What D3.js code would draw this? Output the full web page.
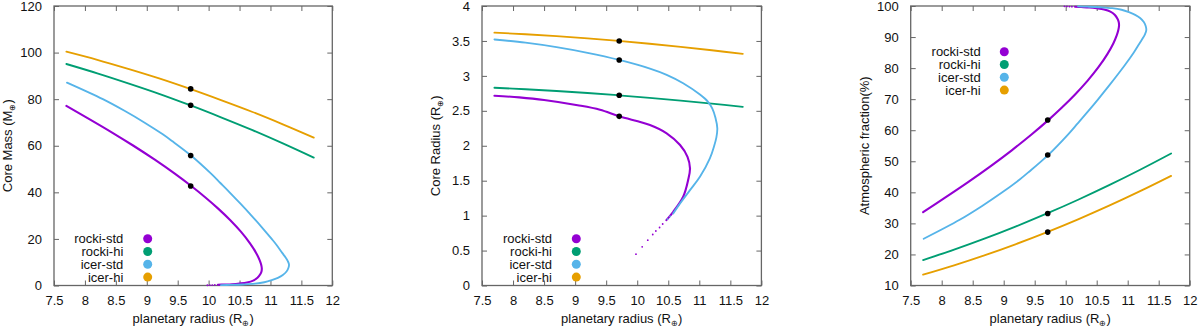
<!DOCTYPE html>
<html><head><meta charset="utf-8">
<script src="https://cdn.jsdelivr.net/npm/d3@7"></script>
<style>
html,body{margin:0;padding:0;background:#fff;}
svg{display:block;font-family:"Liberation Sans",Arial,Helvetica,sans-serif;}
</style></head>
<body>
<svg id="chart" width="1200" height="327"></svg>
<script>
// ---------- data ----------
const seriesNames = ["rocki-std", "rocki-hi", "icer-std", "icer-hi"];
const seriesColors = ["#9400d3", "#009e73", "#56b4e9", "#e69f00"];
const xTickValues = [7.5, 8, 8.5, 9, 9.5, 10, 10.5, 11, 11.5, 12];
const xTickLabels = ["7.5", "8", "8.5", "9", "9.5", "10", "10.5", "11", "11.5", "12"];
const massTicks = [0, 20, 40, 60, 80, 100, 120];
const coreRadTicks = [0, 0.5, 1, 1.5, 2, 2.5, 3, 3.5, 4];
const coreRadTickLabels = ["0", "0.5", "1", "1.5", "2", "2.5", "3", "3.5", "4"];
const atmTicks = [10, 20, 30, 40, 50, 60, 70, 80, 90, 100];
const markerRadius = [9.71, 9.71, 9.71, 9.71];

// Panel 1: core mass (M_earth)
const massRockiStdR = [7.7, 8.036, 8.42, 8.785, 9.13, 9.453, 9.719, 9.939, 10.155, 10.351, 10.525, 10.672, 10.768, 10.823, 10.849, 10.86, 10.855, 10.835, 10.79, 10.72, 10.62, 10.5, 10.38, 10.25, 10.15];
const massRockiStdV = [77.1, 72, 66, 60, 54, 48, 42.7, 38, 33, 28, 23, 18, 14, 11, 9, 7.4, 6, 4.8, 3.3, 2.1, 1.3, 0.85, 0.55, 0.4, 0.3];
const massRockiStdTailR = [10.1, 10.06, 10.02, 9.98];
const massRockiStdTailV = [0.25, 0.2, 0.15, 0.1];
const massRockiHiR = [7.7, 8.2, 8.7, 9.2, 9.7, 10.2, 10.7, 11.2, 11.7];
const massRockiHiV = [95.1, 91.1, 86.8, 82.3, 77.4, 72.2, 66.8, 61.0, 54.9];
const massIcerStdR = [7.71, 8.29, 8.64, 8.96, 9.253, 9.41, 9.715, 10.04, 10.19, 10.339, 10.519, 10.693, 10.861, 11.02, 11.096, 11.19, 11.245, 11.28, 11.3, 11.29, 11.26, 11.2, 11.12, 11.02, 10.9, 10.75, 10.55, 10.35, 10.2];
const massIcerStdV = [87.1, 80, 75, 70, 65, 62, 55.8, 48, 44, 40, 35, 30, 25, 20, 17.5, 14, 12, 10.5, 9, 7.5, 6, 4.5, 3.3, 2.3, 1.4, 0.8, 0.45, 0.25, 0.15];
const massIcerHiR = [7.7, 8.2, 8.7, 9.2, 9.7, 10.2, 10.7, 11.2, 11.7];
const massIcerHiV = [100.4, 96.9, 93.0, 88.9, 84.4, 79.6, 74.6, 69.2, 63.5];
const massMarkerV = [42.7, 77.4, 55.8, 84.4];

// Panel 2: core radius (R_earth)
const radRockiStdR = [7.7, 8.1, 8.5, 9.04, 9.4, 9.71, 10.205, 10.474, 10.69, 10.81, 10.85, 10.82, 10.74, 10.58, 10.47];
const radRockiStdV = [2.716, 2.692, 2.655, 2.58, 2.515, 2.421, 2.297, 2.178, 2.01, 1.842, 1.676, 1.509, 1.27, 1.055, 0.936];
const radRockiStdTailR = [10.41, 10.36, 10.3, 10.25, 10.17, 10.08, 9.98];
const radRockiStdTailV = [0.88, 0.83, 0.78, 0.73, 0.649, 0.553, 0.448];
const radRockiHiR = [7.7, 8.2, 8.7, 9.2, 9.7, 10.2, 10.7, 11.2, 11.7];
const radRockiHiV = [2.83, 2.808, 2.783, 2.755, 2.722, 2.686, 2.646, 2.603, 2.557];
const radIcerStdR = [7.7, 8.2, 8.7, 9.2, 9.71, 10.205, 10.474, 10.74, 11.01, 11.14, 11.21, 11.26, 11.29, 11.275, 11.24, 11.17, 11.01, 10.85, 10.69, 10.58];
const radIcerStdV = [3.521, 3.475, 3.411, 3.33, 3.228, 3.104, 3.015, 2.895, 2.733, 2.629, 2.53, 2.4, 2.249, 2.12, 2.0, 1.819, 1.556, 1.365, 1.175, 1.031];
const radIcerStdTailR = [10.53, 10.49];
const radIcerStdTailV = [0.99, 0.95];
const radIcerHiR = [7.7, 8.2, 8.7, 9.2, 9.7, 10.2, 10.7, 11.2, 11.7];
const radIcerHiV = [3.619, 3.596, 3.568, 3.536, 3.5, 3.46, 3.415, 3.367, 3.314];
const radMarkerV = [2.421, 2.722, 3.228, 3.5];

// Panel 3: atmospheric fraction (%)
const atmRockiStdR = [7.7, 8.036, 8.42, 8.785, 9.13, 9.453, 9.719, 9.939, 10.155, 10.351, 10.525, 10.672, 10.768, 10.823, 10.849, 10.86, 10.855, 10.835, 10.79, 10.72, 10.62, 10.5, 10.38, 10.25, 10.15];
const atmRockiStdV = [33.65, 38.04, 43.2, 48.36, 53.53, 58.69, 63.25, 67.3, 71.6, 75.9, 80.21, 84.51, 87.95, 90.53, 92.25, 93.63, 94.84, 95.87, 97.16, 98.19, 98.88, 99.27, 99.53, 99.66, 99.74];
const atmRockiStdTailR = [10.1, 10.06, 10.02, 9.98];
const atmRockiStdTailV = [99.78, 99.83, 99.87, 99.91];
const atmRockiHiR = [7.7, 8.2, 8.7, 9.2, 9.7, 10.2, 10.7, 11.2, 11.7];
const atmRockiHiV = [18.2, 21.55, 25.16, 29.05, 33.2, 37.62, 42.31, 47.27, 52.5];
const atmIcerStdR = [7.71, 8.29, 8.64, 8.96, 9.253, 9.41, 9.715, 10.04, 10.19, 10.339, 10.519, 10.693, 10.861, 11.02, 11.096, 11.19, 11.245, 11.28, 11.3, 11.29, 11.26, 11.2, 11.12, 11.02, 10.9, 10.75, 10.55, 10.35, 10.2];
const atmIcerStdV = [25.04, 31.15, 35.46, 39.76, 44.06, 46.64, 51.98, 58.69, 62.13, 65.58, 69.88, 74.18, 78.49, 82.79, 84.94, 87.95, 89.67, 90.96, 92.25, 93.55, 94.84, 96.13, 97.16, 98.02, 98.8, 99.31, 99.61, 99.78, 99.87];
const atmIcerHiR = [7.7, 8.2, 8.7, 9.2, 9.7, 10.2, 10.7, 11.2, 11.7];
const atmIcerHiV = [13.5, 16.51, 19.8, 23.36, 27.2, 31.31, 35.7, 40.37, 45.3];
const atmMarkerV = [63.3, 33.2, 52.0, 27.2];

// ---------- drawing ----------
const svg = d3.select("#chart");
const TOP = 6, BOTTOM = 285.5;
const FONT = 13;
const frameColor = "#666";

function zip(xs, ys) { return xs.map((x, i) => [x, ys[i]]); }

function addRich(sel, parts) {
  parts.forEach(p => {
    const t = sel.append("tspan").text(p.t);
    if (p.sub) { t.attr("font-size", FONT * 0.62).attr("dy", 3); }
    else if (p.after) { t.attr("dy", -3); }
  });
}

function panel(cfg) {
  const g = svg.append("g");
  const x = d3.scaleLinear().domain([7.5, 12]).range([cfg.left, cfg.right]);
  const y = d3.scaleLinear().domain(cfg.yDomain).range([BOTTOM, TOP]);
  const clipId = "clip" + cfg.id;
  svg.append("clipPath").attr("id", clipId).append("rect")
    .attr("x", cfg.left).attr("y", TOP - 3).attr("width", cfg.right - cfg.left).attr("height", BOTTOM - TOP + 6);

  // axes: ticks inward, mirrored
  const tl = 5;
  const axB = d3.axisBottom(x).tickValues(xTickValues).tickFormat((d, i) => xTickLabels[i]).tickSizeInner(-tl).tickSizeOuter(0).tickPadding(10);
  const axT = d3.axisTop(x).tickValues(xTickValues).tickFormat("").tickSizeInner(-tl).tickSizeOuter(0);
  const axL = d3.axisLeft(y).tickValues(cfg.yTicks).tickFormat((d, i) => cfg.yTickLabels[i]).tickSizeInner(-tl).tickSizeOuter(0).tickPadding(12);
  const axR = d3.axisRight(y).tickValues(cfg.yTicks).tickFormat("").tickSizeInner(-tl).tickSizeOuter(0);
  const gb = g.append("g").attr("transform", `translate(0,${BOTTOM})`).call(axB);
  const gt = g.append("g").attr("transform", `translate(0,${TOP})`).call(axT);
  const gl = g.append("g").attr("transform", `translate(${cfg.left},0)`).call(axL);
  const gr = g.append("g").attr("transform", `translate(${cfg.right},0)`).call(axR);
  [gb, gt, gl, gr].forEach(a => {
    a.select(".domain").remove();
    a.selectAll(".tick line").attr("stroke", frameColor).attr("stroke-width", 1);
    a.selectAll(".tick text").attr("fill", "#111").attr("font-size", FONT).attr("font-family", "Liberation Sans, Arial, sans-serif");
  });
  gb.selectAll(".tick text").attr("dy", "0.71em");

  // frame
  g.append("rect").attr("x", cfg.left).attr("y", TOP).attr("width", cfg.right - cfg.left).attr("height", BOTTOM - TOP)
    .attr("fill", "none").attr("stroke", frameColor).attr("stroke-width", 1.3);

  // curves
  const line = d3.line().x(d => x(d[0])).y(d => y(d[1])).curve(d3.curveCatmullRom.alpha(0.5));
  const plot = g.append("g").attr("clip-path", `url(#${clipId})`);
  cfg.series.forEach((s, i) => {
    plot.append("path").datum(zip(s.r, s.v)).attr("d", line)
      .attr("fill", "none").attr("stroke", seriesColors[i]).attr("stroke-width", i === 0 ? 2.1 : 1.85)
      .attr("stroke-linejoin", "round").attr("stroke-linecap", "round");
    if (s.tr) {
      plot.selectAll(null).data(zip(s.tr, s.tv)).enter().append("circle")
        .attr("cx", d => x(d[0])).attr("cy", d => y(d[1])).attr("r", 0.9).attr("fill", seriesColors[i]);
    }
  });
  // markers
  g.selectAll(null).data(cfg.markers).enter().append("circle")
    .attr("cx", (d, i) => x(markerRadius[i])).attr("cy", d => y(d)).attr("r", 2.8).attr("fill", "#000");

  // legend
  seriesNames.forEach((n, i) => {
    const ly = cfg.legY + i * 12.8;
    g.append("text").attr("x", cfg.legTextX).attr("y", ly).attr("dy", "0.35em").attr("text-anchor", "end")
      .attr("font-size", FONT).attr("fill", "#111").text(n);
    g.append("circle").attr("cx", cfg.legDotX).attr("cy", ly).attr("r", 4.5).attr("fill", seriesColors[i]);
  });

  // axis titles
  const xt = g.append("text").attr("x", (cfg.left + cfg.right) / 2).attr("y", 323).attr("text-anchor", "middle")
    .attr("font-size", FONT).attr("fill", "#111");
  addRich(xt, [{t: "planetary radius (R"}, {t: "\u2295", sub: true}, {t: ")", after: true}]);
  const yt = g.append("text").attr("transform", `translate(${cfg.yLabelX},${(TOP + BOTTOM) / 2}) rotate(-90)`)
    .attr("text-anchor", "middle").attr("font-size", FONT).attr("fill", "#111");
  addRich(yt, cfg.yTitle);
}

panel({
  id: 1, left: 54, right: 332.3, yDomain: [0, 120], yTicks: massTicks, yTickLabels: massTicks.map(String),
  series: [
    {r: massRockiStdR, v: massRockiStdV, tr: massRockiStdTailR, tv: massRockiStdTailV},
    {r: massRockiHiR, v: massRockiHiV},
    {r: massIcerStdR, v: massIcerStdV},
    {r: massIcerHiR, v: massIcerHiV}
  ],
  markers: massMarkerV, legY: 238.7, legTextX: 123.3, legDotX: 147.7, yLabelX: 12,
  yTitle: [{t: "Core Mass (M"}, {t: "\u2295", sub: true}, {t: ")", after: true}]
});
panel({
  id: 2, left: 482, right: 761.4, yDomain: [0, 4], yTicks: coreRadTicks, yTickLabels: coreRadTickLabels,
  series: [
    {r: radRockiStdR, v: radRockiStdV, tr: radRockiStdTailR, tv: radRockiStdTailV},
    {r: radRockiHiR, v: radRockiHiV},
    {r: radIcerStdR, v: radIcerStdV, tr: radIcerStdTailR, tv: radIcerStdTailV},
    {r: radIcerHiR, v: radIcerHiV}
  ],
  markers: radMarkerV, legY: 238.7, legTextX: 552, legDotX: 576.3, yLabelX: 440,
  yTitle: [{t: "Core Radius (R"}, {t: "\u2295", sub: true}, {t: ")", after: true}]
});
panel({
  id: 3, left: 910.7, right: 1189.7, yDomain: [10, 100], yTicks: atmTicks, yTickLabels: atmTicks.map(String),
  series: [
    {r: atmRockiStdR, v: atmRockiStdV, tr: atmRockiStdTailR, tv: atmRockiStdTailV},
    {r: atmRockiHiR, v: atmRockiHiV},
    {r: atmIcerStdR, v: atmIcerStdV},
    {r: atmIcerHiR, v: atmIcerHiV}
  ],
  markers: atmMarkerV, legY: 51.7, legTextX: 980.7, legDotX: 1004.3, yLabelX: 869,
  yTitle: [{t: "Atmospheric fraction(%)"}]
});
</script>
</body></html>
